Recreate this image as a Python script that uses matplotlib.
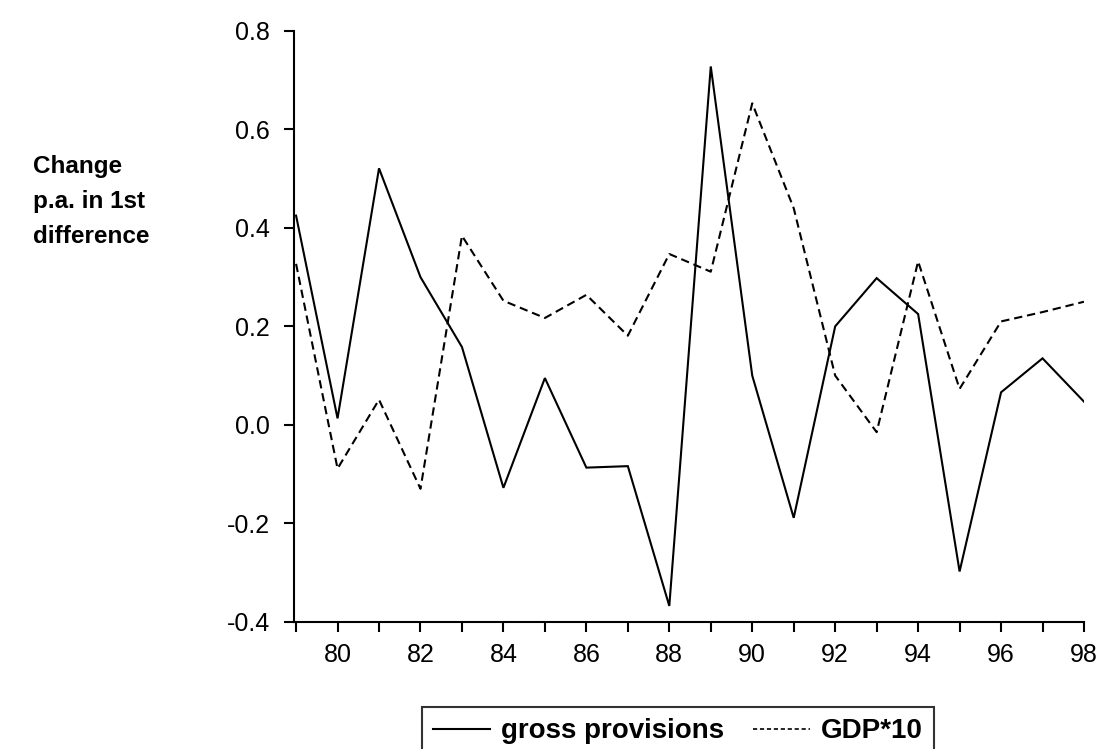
import matplotlib
matplotlib.use("Agg")
import matplotlib.pyplot as plt
from matplotlib.lines import Line2D

plt.rcParams['font.family'] = ['Liberation Sans', 'DejaVu Sans']
plt.rcParams['lines.scale_dashes'] = False

years = list(range(79, 99))
gross_provisions = [0.425, 0.013, 0.521, 0.300, 0.158, -0.128, 0.095, -0.087, -0.084, -0.368,
                    0.728, 0.100, -0.189, 0.200, 0.298, 0.225, -0.298, 0.066, 0.135, 0.047]
gdp10 = [0.327, -0.089, 0.051, -0.130, 0.384, 0.252, 0.217, 0.264, 0.181, 0.347,
         0.311, 0.653, 0.440, 0.100, -0.015, 0.332, 0.073, 0.210, 0.229, 0.250]
ytick_vals = [-0.4, -0.2, 0.0, 0.2, 0.4, 0.6, 0.8]
ytick_labels = ['-0.4', '-0.2', '0.0', '0.2', '0.4', '0.6', '0.8']
xtick_major = [80, 82, 84, 86, 88, 90, 92, 94, 96, 98]
series_names = ['gross provisions', 'GDP*10']
ylabel_lines = ["Change", "p.a. in 1st", "difference"]

fig = plt.figure(figsize=(10.96, 7.49), dpi=100)
ax = fig.add_axes([294/1096, 1-621.7/749, (1084-294)/1096, (621.7-31)/749])

ax.plot(years, gross_provisions, color='black', lw=1.5, solid_joinstyle='miter')
ax.plot(years, gdp10, color='black', lw=1.5, dashes=(6.0, 3.5))

ax.set_xlim(78.95, 98)
ax.set_ylim(-0.4, 0.8)
ax.set_yticks(ytick_vals)
ax.set_yticklabels(ytick_labels)
ax.set_xticks(xtick_major)
ax.set_xticklabels([str(v) for v in xtick_major])
ax.set_xticks([y for y in years if y not in xtick_major], minor=True)

for s in ['top', 'right']:
    ax.spines[s].set_visible(False)
for s in ['left', 'bottom']:
    ax.spines[s].set_linewidth(1.5)
ax.spines['left'].set_bounds(-0.4, 0.8)

ax.tick_params(axis='both', which='both', direction='out', length=7.5, width=1.5,
               labelsize=18, color='black')
ax.tick_params(axis='y', pad=10)
ax.tick_params(axis='x', pad=8)

for i, line in enumerate(ylabel_lines):
    fig.text(33/1096, 1-(173 + 35*i)/749, line, fontsize=17.5, fontweight='bold',
             ha='left', va='baseline')

handles = [Line2D([], [], color='black', lw=1.5),
           Line2D([], [], color='black', lw=1.2, dashes=(3, 2))]
leg = fig.legend(handles, series_names, loc='upper left',
                 bbox_to_anchor=(421.7/1096, 1-707.3/749), ncol=2, frameon=True,
                 fancybox=False, edgecolor='black',
                 prop={'weight': 'bold', 'size': 20}, handlelength=2.05,
                 columnspacing=1.05, handletextpad=0.4, borderpad=0.4,
                 borderaxespad=0)
leg.get_frame().set_linewidth(1.5)

fig.savefig('out.png', dpi=100)
